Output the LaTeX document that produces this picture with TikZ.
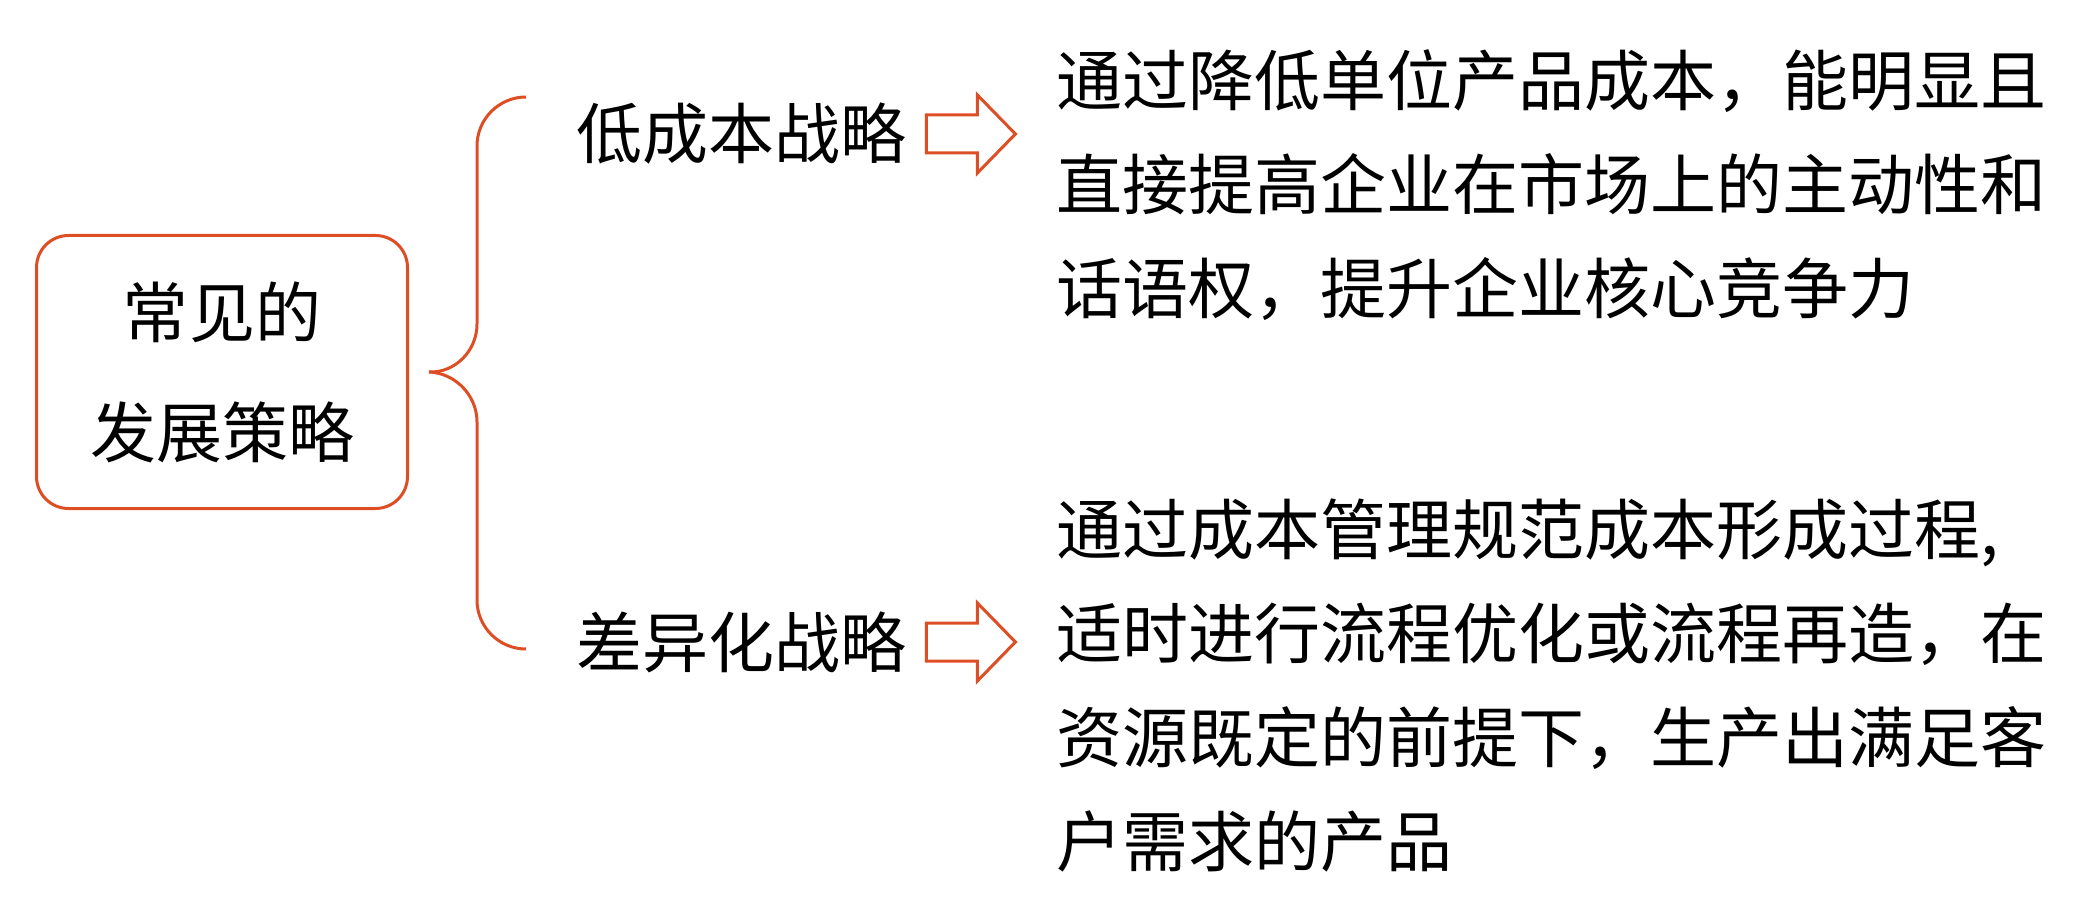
\documentclass[tikz,border=0pt]{standalone}
\usepackage{fontspec}
\newfontfamily\cjk{Noto Sans CJK SC}
\usetikzlibrary{positioning}
\definecolor{brand}{RGB}{222,78,36}
\tikzset{
  rootbox/.style={draw=brand,line width=1.5pt,rounded corners=16pt,
    minimum width=185.5pt,minimum height=136.5pt,align=center,
    font=\cjk\fontsize{33}{60}\selectfont},
  branch/.style={inner sep=0pt,font=\cjk\fontsize{33}{40}\selectfont},
  arrowline/.style={draw=brand,line width=1.5pt,line join=miter},
  desc/.style={inner sep=0pt,align=left,font=\cjk\fontsize{33}{52}\selectfont},
}
\begin{document}
\begin{tikzpicture}[x=0.5pt,y=-0.5pt]
  \useasboundingbox (0,0) rectangle (2086,897);
  \node[rootbox] (root) at (222,372) {常见的\\发展策略};
  \node[branch] (low)  at (741,134) {低成本战略};
  \node[branch] (diff) at (741,642) {差异化战略};
  \coordinate[right=10pt of low]  (lowarrow);
  \coordinate[right=10pt of diff] (diffarrow);
  \node[desc,anchor=west] (lowtxt) at (1056,185)
    {通过降低单位产品成本，能明显且\\直接提高企业在市场上的主动性和\\话语权，提升企业核心竞争力};
  \node[desc,anchor=west] (difftxt) at (1056,686)
    {通过成本管理规范成本形成过程,\\适时进行流程优化或流程再造，在\\资源既定的前提下，生产出满足客\\户需求的产品};
  \begin{scope}[color=brand,line width=1.5pt]
    \coordinate (tip) at ([xshift=10pt]root.east);
    \draw (526,97) .. controls (499,97) and (477,119) .. (477,146)
      -- (477,324) .. controls (477,351) and (455,373) .. (tip);
    \draw (tip) .. controls (455,373) and (477,395) .. (477,422)
      -- (477,600) .. controls (477,627) and (499,649) .. (526,649);
    \foreach \a in {lowarrow,diffarrow}
      \draw[arrowline] (\a) ++(0,-19) -- ++(51,0) -- ++(0,-20) -- ++(38,39)
        -- ++(-38,39) -- ++(0,-20) -- ++(-51,0) -- cycle;
  \end{scope}
\end{tikzpicture}
\end{document}
